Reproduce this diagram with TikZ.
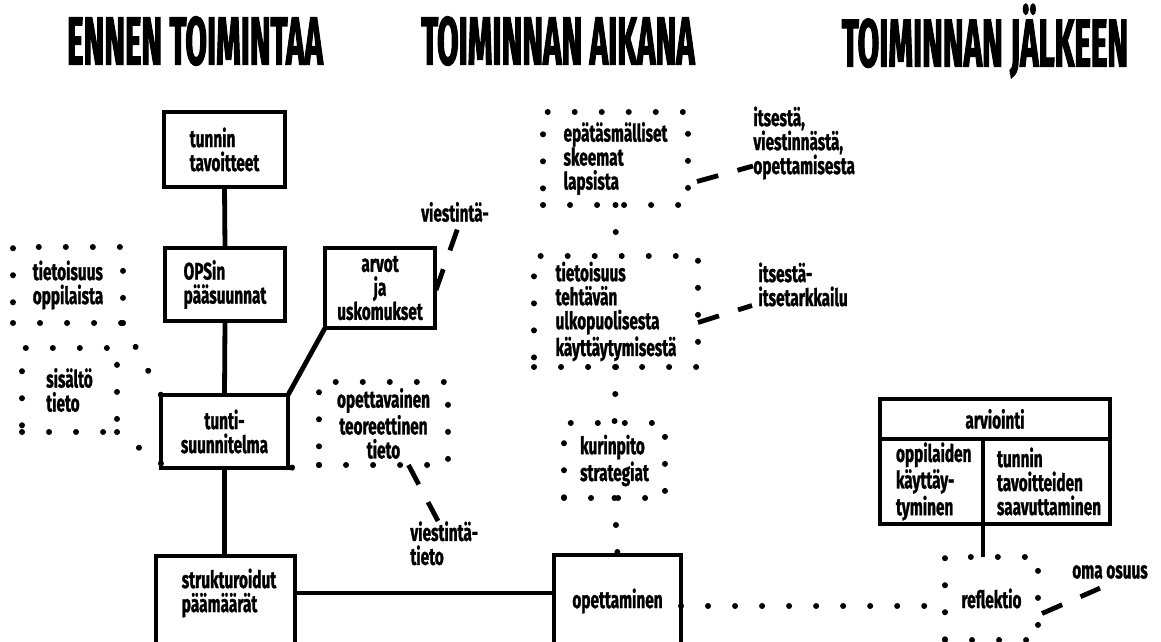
\documentclass[tikz,border=0pt]{standalone}
\usepackage{fontspec}
\setmainfont{Fira Sans}[FakeStretch=0.64, FakeBold=1.1]
\newfontfamily\tfont{Fira Sans}[FakeStretch=0.46, FakeBold=1.5]
\usetikzlibrary{calc}
\tikzset{
  bodyfont/.style={font=\bfseries\fontsize{12}{12}\selectfont},
  titlenode/.style={font=\tfont\bfseries\fontsize{34}{36}\selectfont, inner sep=0},
  box/.style={draw, line width=2.4pt, inner sep=0pt, outer sep=0pt, align=left, bodyfont},
  dotbox/.style={draw, line width=3pt, line cap=round, dash pattern=on 0.01pt off 13.5pt, inner sep=0pt, outer sep=0pt, align=left, bodyfont},
  txt/.style={inner sep=0pt, bodyfont},
  conn/.style={line width=2.4pt},
  dotline/.style={line width=3pt, line cap=round, dash pattern=on 0.01pt off 13.5pt},
  dashline/.style={line width=2.4pt, dash pattern=on 11pt off 10pt},
}
\begin{document}
\begin{tikzpicture}[x=0.5pt, y=-0.5pt]
\path[use as bounding box, fill=white] (0,0) rectangle (1161,642);
\clip (0,0) rectangle (1161,642);

% titles
\node[titlenode] (t1) at (195,41) {ENNEN TOIMINTAA};
\node[titlenode] (t2) at (558,41) {TOIMINNAN AIKANA};
\node[titlenode] (t3) at (985,41) {TOIMINNAN JÄLKEEN};

% left column
\node[box, minimum width=60.5pt, minimum height=37.5pt] (tav) at (224.5,149.5) {tunnin\\tavoitteet};
\node[box, minimum width=60pt, minimum height=36.5pt] (ops) at (225,284.5) {OPSin\\pääsuunnat};
\node[box, align=center, minimum width=63.5pt, minimum height=36.5pt] (tunti) at (224.5,431.5) {tunti-\\suunnitelma};
\node[box, align=center, minimum width=55pt, minimum height=40pt] (arvot) at (380,288) {arvot\\ja\\uskomukset};
\node[box, anchor=north, minimum width=69.5pt, minimum height=55pt] (strukt) at (225.5,556) {};
\node[txt, align=left] (struktT) at (229,593) {strukturoidut\\päämäärät};

\draw[conn] (tav.south) -- (ops.north);
\draw[conn] (ops.south) -- (tunti.north);
\draw[conn] (tunti.south) -- (strukt.north -| tunti.south);
\draw[conn] (arvot.south west) -- (tunti.north east);

\node[txt] (viestA) at (455,212) {viestintä-};
\draw[dashline] ($(arvot.east)+(1,2)$) -- ($(viestA.south)+(3,5)$);

\node[dotbox, minimum width=55pt, minimum height=38pt] (tietOpp) at (68,285) {tietoisuus\\oppilaista};
\node[dotbox, minimum width=47.5pt, minimum height=42pt] (sis) at (69.5,390) {sisältö\\tieto};
\draw[dotline] (tietOpp.south east) -- (tunti.north west);
\draw[dotline] (sis.south east) -- ($(tunti.west)+(0,32)$);

\node[dotbox, align=center, minimum width=64.5pt, minimum height=41.5pt] (opetTeo) at (383.5,423.5) {opettavainen\\teoreettinen\\tieto};
\draw[dotline] (opetTeo.south west) -- (tunti.south east);
\node[txt, align=left, anchor=north west] (viestT) at (410,521) {viestintä-\\tieto};
\draw[dashline] ($(opetTeo.south)+(25,0)$) -- ($(viestT.north west)+(28,0)$);

% middle column
\node[dotbox, minimum width=72.5pt, minimum height=46.5pt] (epat) at (615.5,158.5) {epätäsmälliset\\skeemat\\lapsista};
\node[dotbox, minimum width=82pt, minimum height=55.5pt] (tiet) at (616,311.5) {tietoisuus\\tehtävän\\ulkopuolisesta\\käyttäytymisestä};
\node[dotbox, minimum width=50.5pt, minimum height=37.5pt] (kuri) at (614.5,460.5) {kurinpito\\strategiat};
\node[box, anchor=north, minimum width=63.5pt, minimum height=55pt] (opett) at (617.5,555) {};
\node[txt] (opettT) at (617.5,601) {opettaminen};

\draw[dotline] (epat.south) -- (tiet.north);
\draw[dotline] (tiet.south) -- (kuri.north);
\draw[dotline] (kuri.south) -- (opett.north);
\draw[conn] (strukt.east |- struktT.center) -- (opett.west |- struktT.center);

\node[txt, align=left, anchor=west] (its1) at (753,143) {itsestä,\\viestinnästä,\\opettamisesta};
\draw[dashline] ($(epat.east)+(9,23)$) -- ($(its1.west)+(0,23)$);
\node[txt, align=left, anchor=west] (its2) at (758,284.5) {itsestä-\\itsetarkkailu};
\draw[dashline] ($(tiet.east)+(0,11)$) -- ($(its2.west)+(-6,21)$);

% right column
\node[box, align=center, minimum width=115pt, minimum height=20pt] (arv) at (995,419) {arviointi};
\node[box, anchor=north west, text width=35.5pt, inner xsep=8pt, minimum height=42.5pt] (arvL) at (arv.south west) {oppilaiden\\käyttäy-\\tyminen};
\node[box, anchor=north west, text width=49.5pt, inner xsep=7pt, minimum height=42.5pt] (arvR) at (arvL.north east) {tunnin\\tavoitteiden\\saavuttaminen};
\node[dotbox, align=center, minimum width=46.5pt, minimum height=41.5pt] (refl) at (991.5,598.5) {reflektio};
\draw[conn] (arvL.south east) -- (arvL.south east |- refl.north);

\coordinate (d0) at ($(opett.east |- opettT.center)+(0,5)$);
\coordinate (d1) at ($(refl.west |- d0)+(-18,0)$);
\draw[dotline] (d0) -- (d1);

\node[txt] (oma) at (1110,572) {oma osuus};
\draw[dashline] ($(refl.east)+(4,15)$) -- ($(oma.south)+(-10,9)$);
\end{tikzpicture}
\end{document}
